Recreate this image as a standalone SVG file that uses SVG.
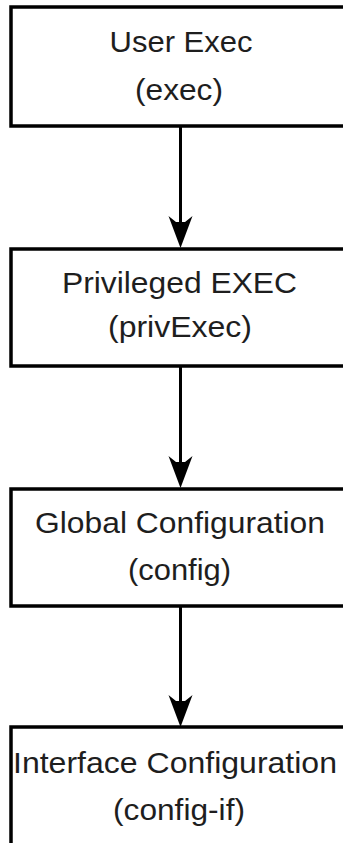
<svg xmlns="http://www.w3.org/2000/svg" width="343" height="843" viewBox="0 0 343 843">
<defs>
<style>
.box{fill:#fff;stroke:#000;stroke-width:3.5}
.lbl{font-family:"Liberation Sans",Arial,sans-serif;font-size:29px;fill:#1e1e1e;text-anchor:middle}
.edge{stroke:#000;stroke-width:3;fill:none}
.head{fill:#000;stroke:none}
</style>
</defs>
<rect width="343" height="843" fill="#fff"/>
<g id="connectors">
<line class="edge" x1="180.5" y1="127" x2="180.5" y2="240"/>
<path class="head" d="M168.5,216 L176,222 L185,222 L192.5,216 L186.5,232 L180.5,248 L174.5,232 Z"/>
<line class="edge" x1="180.5" y1="367" x2="180.5" y2="480"/>
<path class="head" d="M168.5,456 L176,462 L185,462 L192.5,456 L186.5,472 L180.5,488 L174.5,472 Z"/>
<line class="edge" x1="180.5" y1="607" x2="180.5" y2="718"/>
<path class="head" d="M168.5,695 L176,701 L185,701 L192.5,695 L186.5,711 L180.5,727 L174.5,711 Z"/>
</g>
<g id="node-exec">
<rect class="box" x="11" y="7" width="345" height="119"/>
<text class="lbl" x="181" y="52" textLength="143" lengthAdjust="spacingAndGlyphs">User Exec</text>
<text class="lbl" x="179" y="100" textLength="88" lengthAdjust="spacingAndGlyphs">(exec)</text>
</g>
<g id="node-privexec">
<rect class="box" x="11" y="249" width="345" height="117"/>
<text class="lbl" x="179.5" y="293" textLength="235" lengthAdjust="spacingAndGlyphs">Privileged EXEC</text>
<text class="lbl" x="180" y="337" textLength="144" lengthAdjust="spacingAndGlyphs">(privExec)</text>
</g>
<g id="node-config">
<rect class="box" x="11" y="489" width="345" height="117"/>
<text class="lbl" x="180" y="533" textLength="290" lengthAdjust="spacingAndGlyphs">Global Configuration</text>
<text class="lbl" x="179.5" y="580" textLength="103" lengthAdjust="spacingAndGlyphs">(config)</text>
</g>
<g id="node-config-if">
<rect class="box" x="11" y="727" width="345" height="130"/>
<text class="lbl" x="175" y="773" textLength="324" lengthAdjust="spacingAndGlyphs">Interface Configuration</text>
<text class="lbl" x="179" y="820" textLength="132" lengthAdjust="spacingAndGlyphs">(config-if)</text>
</g>
</svg>
